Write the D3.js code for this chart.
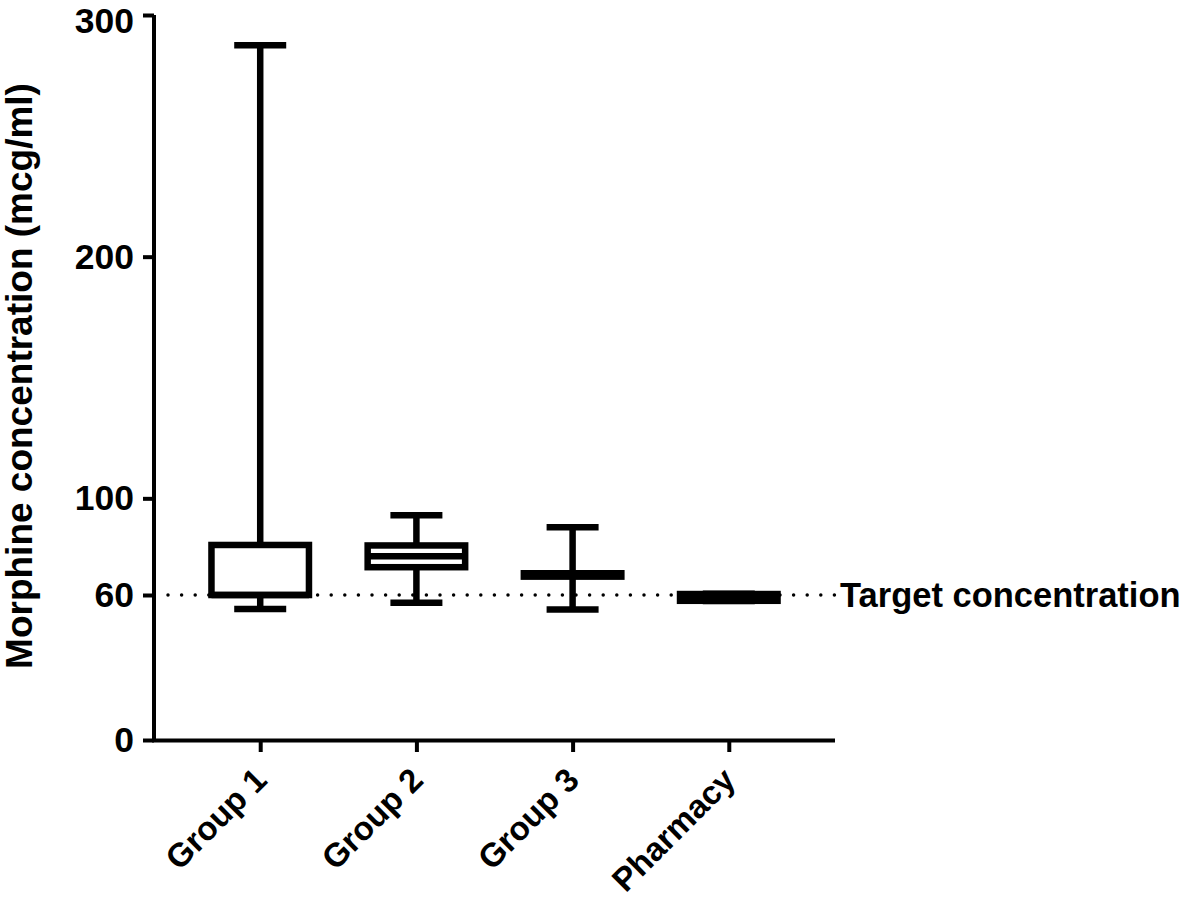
<!DOCTYPE html>
<html>
<head>
<meta charset="utf-8">
<script src="https://cdn.jsdelivr.net/npm/d3@7"></script>
<style>
  body { margin: 0; background: #fff; }
  svg text { font-family: "Liberation Sans", Arial, sans-serif; font-weight: bold; fill: #000; }
</style>
</head>
<body>
<div class="canvas"></div>
<script>
// box plot data (mcg/ml)
const categories = ['Group 1', 'Group 2', 'Group 3', 'Pharmacy'];
const mins    = [54.2, 56.8, 54.0, 57.5];
const q1s     = [60.0, 71.5, 67.6, 57.6];
const medians = [60.0, 76.0, 68.2, 59.0];
const q3s     = [80.7, 80.5, 69.0, 60.4];
const maxs    = [287.5, 93.0, 88.0, 60.5];
const yTicks  = [0, 60, 100, 200, 300];
const target  = 60;

const data = categories.map((c, i) => ({
  category: c, min: mins[i], q1: q1s[i], median: medians[i], q3: q3s[i], max: maxs[i]
}));

const width = 1181, height = 899;
const plot = { left: 154, right: 835, top: 15, bottom: 740 };
const STROKE = 6.5;

const svg = d3.select('.canvas')
  .append('svg')
  .attr('width', width)
  .attr('height', height);

const y = d3.scaleLinear()
  .domain([0, 300])
  .range([plot.bottom, plot.top]);

const x = d3.scalePoint()
  .domain(categories)
  .range([plot.left, plot.right])
  .padding(0.68);

// target concentration dotted line (drawn first, sits behind boxes)
svg.append('line')
  .attr('x1', plot.left + 14).attr('x2', plot.right)
  .attr('y1', y(target)).attr('y2', y(target))
  .attr('stroke', '#000')
  .attr('stroke-width', 3.5)
  .attr('stroke-linecap', 'round')
  .attr('stroke-dasharray', '0 13.6');

svg.append('text')
  .attr('x', 840)
  .attr('y', y(target))
  .attr('dy', '0.35em')
  .style('font-size', '34.5px')
  .text('Target concentration');

// axes
const yAxis = svg.append('g')
  .attr('transform', `translate(${plot.left},0)`)
  .call(d3.axisLeft(y).tickValues(yTicks).tickSize(11).tickSizeOuter(0).tickPadding(9));

const xAxis = svg.append('g')
  .attr('transform', `translate(0,${plot.bottom})`)
  .call(d3.axisBottom(x).tickSize(12).tickSizeOuter(0));

[yAxis, xAxis].forEach(g => {
  g.select('.domain').attr('stroke', '#000').attr('stroke-width', 4);
  g.selectAll('.tick line').attr('stroke', '#000').attr('stroke-width', 4);
});
xAxis.select('.domain').attr('d', `M${plot.left - 2},0.5H${plot.right}`);
yAxis.select('.domain').attr('d', `M0,${plot.top}V${plot.bottom + 2}`);

yAxis.selectAll('.tick text')
  .style('font-size', '35.5px')
  // keep the top label inside the page
  .attr('y', d => d === 300 ? 6 : 0);

xAxis.selectAll('.tick text')
  .style('font-size', '33px')
  .attr('text-anchor', 'end')
  .attr('dy', null)
  .attr('y', null)
  .attr('transform', 'translate(8,42) rotate(-45)');

// boxes
const boxW = 104 - STROKE;
const capW = 52;

const boxes = svg.append('g')
  .selectAll('g')
  .data(data)
  .enter()
  .append('g')
  .attr('transform', d => `translate(${x(d.category)},0)`);

// whiskers
boxes.append('line')
  .attr('y1', d => y(d.max)).attr('y2', d => y(d.q3))
  .attr('stroke', '#000').attr('stroke-width', STROKE);
boxes.append('line')
  .attr('y1', d => y(d.q1)).attr('y2', d => y(d.min))
  .attr('stroke', '#000').attr('stroke-width', STROKE);

// caps
boxes.selectAll('.cap')
  .data(d => [d.max, d.min])
  .enter()
  .append('line')
  .attr('class', 'cap')
  .attr('x1', -capW / 2).attr('x2', capW / 2)
  .attr('y1', v => y(v)).attr('y2', v => y(v))
  .attr('stroke', '#000').attr('stroke-width', STROKE);

// box
boxes.append('rect')
  .attr('x', -boxW / 2)
  .attr('width', boxW)
  .attr('y', d => y(d.q3))
  .attr('height', d => y(d.q1) - y(d.q3))
  .attr('fill', '#fff')
  .attr('stroke', '#000')
  .attr('stroke-width', STROKE);

// median
boxes.append('line')
  .attr('x1', -boxW / 2).attr('x2', boxW / 2)
  .attr('y1', d => y(d.median)).attr('y2', d => y(d.median))
  .attr('stroke', '#000').attr('stroke-width', STROKE);

// y axis title
svg.append('text')
  .attr('transform', 'translate(32,376) rotate(-90)')
  .attr('text-anchor', 'middle')
  .style('font-size', '37px')
  .text('Morphine concentration (mcg/ml)');
</script>
</body>
</html>
